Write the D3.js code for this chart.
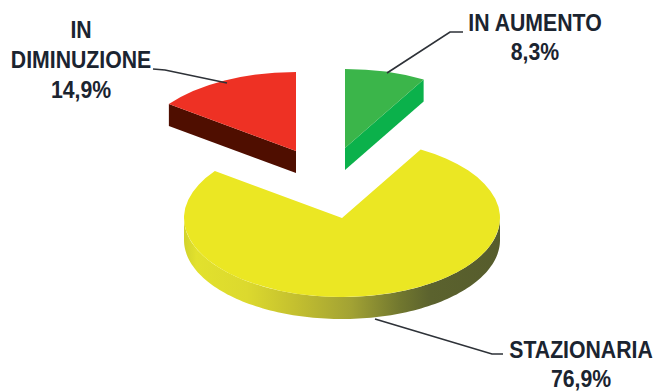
<!DOCTYPE html>
<html lang="it">
<head>
<meta charset="utf-8">
<style>
  html, body { margin: 0; padding: 0; background: #fff; }
  svg { display: block; }
  text { font-family: "Liberation Sans", Arial, sans-serif; font-weight: 700; fill: #1b2430; text-anchor: middle; }
</style>
</head>
<body>
<svg id="chart" width="654" height="392"></svg>
<script src="https://cdn.jsdelivr.net/npm/d3@7/dist/d3.min.js"></script>
<script>
// Slice shares, clockwise from twelve o'clock
const categories = ["IN AUMENTO", "STAZIONARIA", "IN DIMINUZIONE"];
const values = [8.3, 76.9, 14.9];
const topColors = ["#3bb54a", "#ebe723", "#ee3124"];
const sideColors = ["#0bb14b", null, "#4f0e00"];

// Layout of the tilted pie
const radiusX = 158, radiusY = 79, depth = 22;
const centers = [[345, 148], [342, 218], [296, 151]];
const leaders = [
  [[387, 73], [450, 32], [463, 32]],
  [[375, 319], [492, 354], [503, 354]],
  [[227, 83], [165, 70], [153, 69]]
];
const labelLines = [
  [["IN AUMENTO"], 535, [31]],
  [["STAZIONARIA"], 581, [358]],
  [["IN", "DIMINUZIONE"], 81, [38, 68]]
];
const valueBaselines = [60, 386.5, 98];
const fontSize = 24;
const condense = 0.885;

const svg = d3.select("#chart");
const defs = svg.append("defs");

// Horizontal shading of the curved rim
const rimStops = [
  [0, "#d2d32c"], [0.04, "#e2e12d"], [0.2, "#dcd92e"], [0.35, "#c4c02f"],
  [0.53, "#a2a234"], [0.68, "#72782f"], [0.78, "#5b622e"], [1, "#565c2c"]
];
const rim = defs.append("linearGradient").attr("id", "rim");
rim.selectAll("stop").data(rimStops).join("stop")
  .attr("offset", d => d[0]).attr("stop-color", d => d[1]);

const arcs = d3.pie().sort(null).value(d => d)(values);
const arcGen = d3.arc().innerRadius(0).outerRadius(radiusX);
const project = a => [radiusX * Math.sin(a), -radiusY * Math.cos(a)];
const line = d3.line();

// Draw order puts the large slice behind the two detached ones
[1, 2, 0].forEach(i => {
  const a = arcs[i];
  const g = svg.append("g").attr("transform", `translate(${centers[i]})`);

  if (i === 1) {
    // Curved outer wall, visible across the front half of the ellipse
    const from = Math.max(a.startAngle, Math.PI / 2);
    const to = Math.min(a.endAngle, 3 * Math.PI / 2);
    const angles = d3.range(0, 121).map(k => from + (to - from) * k / 120);
    const lower = angles.map(project).map(p => [p[0], p[1] + depth]);
    const upper = angles.map(project).reverse();
    g.append("path").attr("d", line(lower.concat(upper)) + "Z").attr("fill", "url(#rim)");
  } else {
    // Flat cut face of a detached slice
    const edge = i === 0 ? a.endAngle : a.startAngle;
    const p = project(edge);
    const quad = [[0, 0], p, [p[0], p[1] + depth], [0, depth]];
    g.append("path").attr("d", line(quad) + "Z").attr("fill", sideColors[i]);
  }

  g.append("path")
    .attr("transform", `scale(1,${radiusY / radiusX})`)
    .attr("d", arcGen(a))
    .attr("fill", topColors[i]);
});

// Leader lines
svg.selectAll("path.leader").data(leaders).join("path")
  .attr("class", "leader")
  .attr("d", d => line(d))
  .attr("fill", "none")
  .attr("stroke", "#2e3238")
  .attr("stroke-width", 1.7);

// Category names with their percentages, set in a condensed bold
const pct = v => v.toFixed(1).replace(".", ",") + "%";
const label = (t, x, y) => svg.append("text")
  .attr("transform", `translate(${x},${y}) scale(${condense},1)`)
  .attr("font-size", fontSize)
  .text(t);
categories.forEach((c, i) => {
  const [names, x, ys] = labelLines[i];
  names.forEach((t, k) => label(t, x, ys[k]));
  label(pct(values[i]), x, valueBaselines[i]);
});
</script>
</body>
</html>
